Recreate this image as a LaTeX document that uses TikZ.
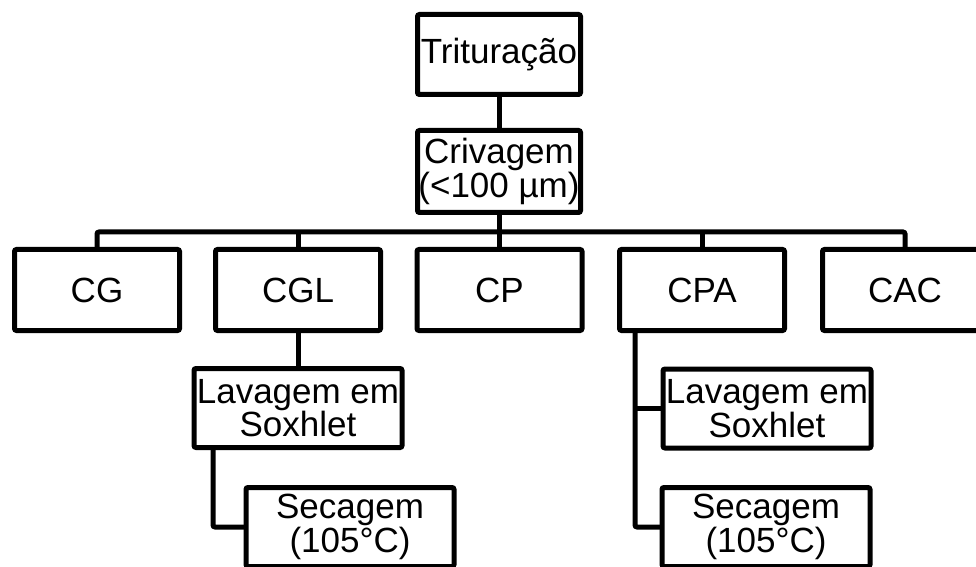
\documentclass[tikz,border=0pt]{standalone}
\usepackage{fontspec}
\setmainfont{Liberation Sans}

\begin{document}
\begin{tikzpicture}[x=0.5pt,y=-0.5pt,
  box/.style={draw, line width=2.5pt, rounded corners=1pt, outer sep=0pt, inner sep=0pt, align=center, font=\fontsize{17.5}{16.8}\selectfont},
  rowbox/.style={box, minimum width=82.5pt, minimum height=40.5pt},
  subbox/.style={box, minimum width=104pt, minimum height=39.5pt},
  link/.style={line width=2.5pt, rounded corners=1pt}]
\useasboundingbox (0,0) rectangle (976,567);
\clip (0,0) rectangle (976,567);

\node[box, minimum width=81.5pt, minimum height=40pt] (trit) at (499,54.5) {Trituração};
\node[box, minimum width=81.5pt, minimum height=41pt] (criv) at (499,171.5) {Crivagem\\(<100 µm)};

\node[rowbox] (cg)  at (97,290)  {CG};
\node[rowbox] (cgl) at (298,290) {CGL};
\node[rowbox] (cp)  at (499.5,290) {CP};
\node[rowbox] (cpa) at (702,290) {CPA};
\node[rowbox] (cac) at (905,290) {CAC};

\node[subbox] (lavA) at (298,408)   {Lavagem em\\Soxhlet};
\node[subbox] (secA) at (350,527)   {Secagem\\(105°C)};
\node[subbox] (lavB) at (767,408.5) {Lavagem em\\Soxhlet};
\node[subbox] (secB) at (766,527)   {Secagem\\(105°C)};

\coordinate (bus) at (0,232);
\coordinate (kneeA) at (213,0);
\coordinate (kneeB) at (635,0);

\draw[link] (trit) -- (criv);
\draw[link] (criv.south) -- (criv.south |- bus);
\draw[link] (cg.north) -- (cg.north |- bus) -- (cac.north |- bus) -- (cac.north);
\draw[link] (cgl.north |- bus) -- (cgl.north);
\draw[link] (cp.north |- bus) -- (cp.north);
\draw[link] (cpa.north |- bus) -- (cpa.north);

\draw[link] (cgl) -- (lavA);
\draw[link] (lavA.south -| kneeA) |- (secA.west);
\draw[link] (cpa.south -| kneeB) |- (secB.west);
\draw[link] (kneeB |- lavB.west) -- (lavB.west);
\end{tikzpicture}
\end{document}
